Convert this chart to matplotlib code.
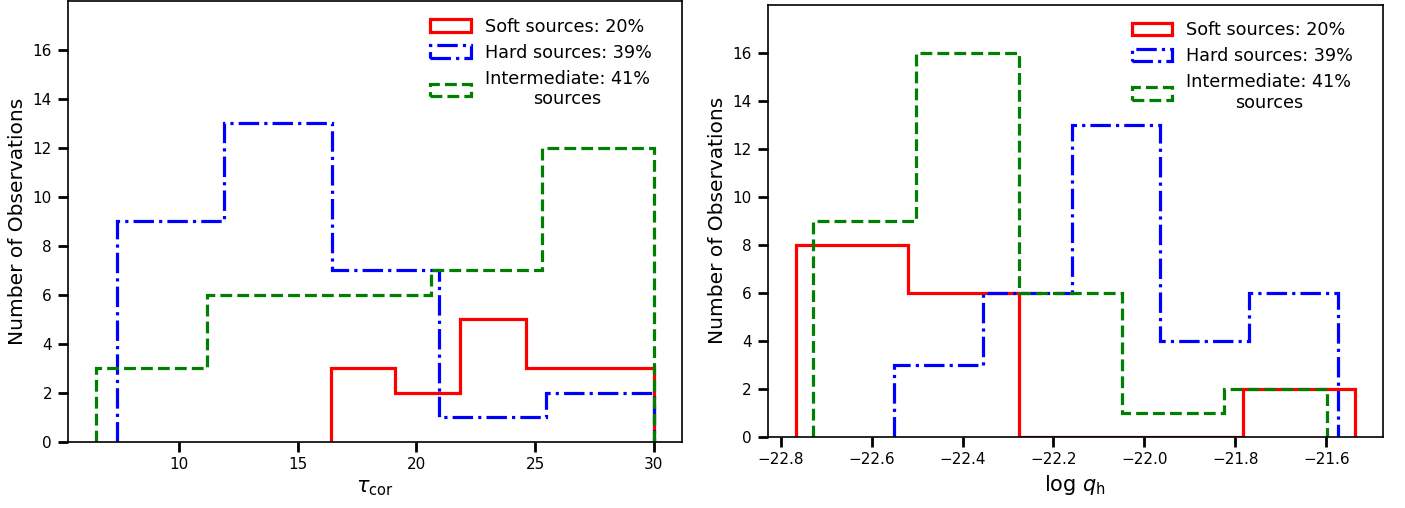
import matplotlib; matplotlib.use("Agg")
import matplotlib.pyplot as plt
import numpy as np

# left panel: tau_cor histograms (bin edges + counts)
tau_soft_edges = [16.4, 19.1, 21.85, 24.6, 27.3, 30.0]
tau_soft_counts = [3, 2, 5, 3, 3]
tau_hard_edges = [7.4, 11.92, 16.44, 20.96, 25.48, 30.0]
tau_hard_counts = [9, 13, 7, 1, 2]
tau_int_edges = [6.5, 11.2, 15.9, 20.6, 25.3, 30.0]
tau_int_counts = [3, 6, 6, 7, 12]

# right panel: log q_h histograms
q_soft_edges = [-22.767, -22.521, -22.275, -22.029, -21.783, -21.537]
q_soft_counts = [8, 6, 0, 0, 2]
q_hard_edges = [-22.55, -22.355, -22.16, -21.965, -21.77, -21.575]
q_hard_counts = [3, 6, 13, 4, 6]
q_int_edges = [-22.728, -22.502, -22.276, -22.05, -21.824, -21.598]
q_int_counts = [9, 16, 6, 1, 2]

labels = ["Soft sources: 20%", "Hard sources: 39%", "Intermediate: 41%\nsources"]
colors = ["red", "blue", "green"]
styles = ["-", "-.", "--"]

fig = plt.figure(figsize=(14.05, 5.08), dpi=100)
ax1 = fig.add_axes([0.0482, 0.1305, 0.4370, 0.8675])
ax2 = fig.add_axes([0.5464, 0.1404, 0.4379, 0.8504])

panels = [
    (ax1, [(tau_soft_edges, tau_soft_counts), (tau_hard_edges, tau_hard_counts), (tau_int_edges, tau_int_counts)],
     r"$\tau_{\rm cor}$"),
    (ax2, [(q_soft_edges, q_soft_counts), (q_hard_edges, q_hard_counts), (q_int_edges, q_int_counts)],
     r"$\log\,q_{\rm h}$"),
]

for ax, series, xlabel in panels:
    for (edges, counts), lab, c, ls in zip(series, labels, colors, styles):
        ax.hist(edges[:-1], bins=edges, weights=counts, histtype="step",
                color=c, ls=ls, lw=2.3, label=lab)
    ax.set_ylim(0, 18)
    ax.set_yticks(np.arange(0, 17, 2))
    ax.set_xlabel(xlabel, fontsize=15)
    ax.set_ylabel("Number of Observations", fontsize=14.5)
    ax.tick_params(direction="out", length=7, width=2, pad=4.3, labelsize=11)
    for s in ax.spines.values():
        s.set_linewidth(1.2)
    leg = ax.legend(loc="upper right", bbox_to_anchor=(0.963, 0.978), frameon=False,
                    fontsize=12.7, handlelength=2.3, labelspacing=0.45, borderaxespad=0)
    for t in leg.get_texts():
        t.set_multialignment("center")

fig.savefig("out.png", dpi=100)
